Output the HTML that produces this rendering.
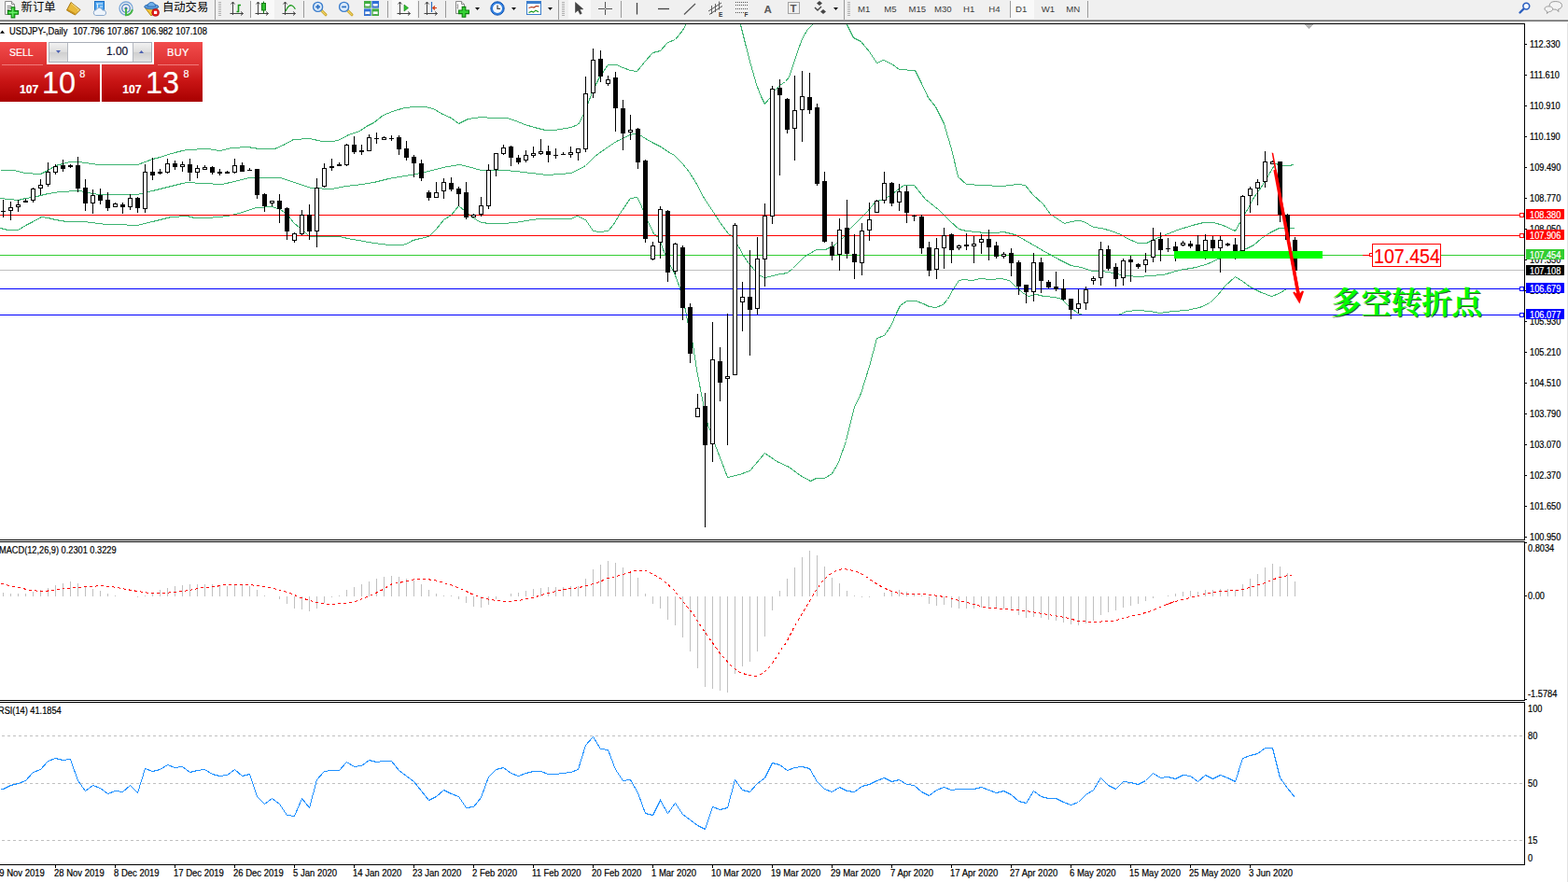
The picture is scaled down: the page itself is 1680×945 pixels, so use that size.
<!DOCTYPE html>
<html><head><meta charset="utf-8"><title>USDJPY Daily</title>
<style>
html,body{margin:0;padding:0;background:#fff}
body{width:1680px;height:945px;position:relative;overflow:hidden;font-family:"Liberation Sans",sans-serif}
.t{position:absolute;white-space:nowrap;line-height:1;margin:0;padding:0;-webkit-text-stroke:0.2px currentColor}
.rp{position:absolute;display:block}
svg{position:absolute;left:0;top:0;display:block}
</style></head><body>
<svg width="1680" height="945" viewBox="0 0 1680 945" shape-rendering="crispEdges">
<rect x="0" y="25" width="1634" height="1" fill="#000"/>
<rect x="0" y="578" width="1634" height="1" fill="#000"/>
<rect x="1633" y="25" width="1" height="554" fill="#000"/>
<rect x="0" y="580" width="1634" height="1" fill="#000"/>
<rect x="0" y="750" width="1634" height="1" fill="#000"/>
<rect x="1633" y="580" width="1" height="171" fill="#000"/>
<rect x="0" y="752" width="1634" height="1" fill="#000"/>
<rect x="0" y="926" width="1634" height="1" fill="#000"/>
<rect x="1633" y="752" width="1" height="175" fill="#000"/>
<clipPath id="cm"><rect x="0" y="26" width="1633" height="552"/></clipPath><g clip-path="url(#cm)">
<rect x="0" y="289" width="1633" height="1" fill="#c0c0c0"/>
<rect x="0" y="273" width="1633" height="1" fill="#32cd32"/>
<polyline points="0.5,182.5 15.5,182.5 26.5,185.5 43.5,186.5 51.5,182.5 59.5,177.5 67.5,175.5 74.5,173.5 83.5,173.5 91.5,174.5 105.5,176.5 147.5,176.5 155.5,173.5 163.5,170.5 171.5,168.5 180.5,165.5 187.5,163.5 195.5,161.5 200.5,160.5 222.5,159.5 235.5,161.5 248.5,158.5 265.5,157.5 277.5,159.5 294.5,159.5 303.5,155.5 314.5,149.5 331.5,148.5 345.5,151.5 357.5,151.5 364.5,149.5 373.5,144.5 385.5,140.5 392.5,135.5 400.5,131.5 410.5,123.5 420.5,119.5 433.5,115.5 444.5,114.5 455.5,114.5 464.5,116.5 472.5,121.5 483.5,126.5 491.5,132.5 501.5,127.5 515.5,125.5 528.5,126.5 543.5,126.5 552.5,129.5 562.5,133.5 572.5,136.5 584.5,139.5 593.5,139.5 600.5,138.5 611.5,136.5 619.5,133.5 625.5,122.5 630.5,109.5 635.5,96.5 642.5,82.5 651.5,69.5 660.5,69.5 667.5,72.5 675.5,75.5 682.5,76.5 691.5,65.5 699.5,56.5 707.5,54.5 715.5,45.5 723.5,42.5 731.5,32.5 735.5,25.5 739.5,17.5" fill="none" stroke="#3cb371" stroke-width="1" />
<polyline points="791.5,17.5 793.5,26.5 798.5,46.5 804.5,69.5 810.5,90.5 815.5,103.5 819.5,111.5 824.5,105.5 829.5,97.5 835.5,91.5 841.5,87.5 845.5,82.5 850.5,67.5 855.5,52.5 860.5,39.5 865.5,31.5 870.5,26.5 875.5,18.5" fill="none" stroke="#3cb371" stroke-width="1" />
<polyline points="904.5,18.5 907.5,26.5 914.5,40.5 922.5,44.5 931.5,55.5 939.5,67.5 946.5,64.5 955.5,68.5 963.5,74.5 980.5,75.5 987.5,89.5 994.5,104.5 1002.5,114.5 1011.5,132.5 1015.5,146.5 1019.5,159.5 1023.5,176.5 1026.5,189.5 1035.5,197.5 1051.5,198.5 1073.5,199.5 1090.5,197.5 1098.5,198.5 1106.5,208.5 1117.5,218.5 1125.5,229.5 1131.5,233.5 1140.5,239.5 1147.5,237.5 1155.5,236.5 1161.5,237.5 1171.5,243.5 1180.5,244.5 1190.5,247.5 1201.5,251.5 1207.5,255.5 1219.5,260.5 1228.5,260.5 1236.5,256.5 1246.5,252.5 1261.5,246.5 1277.5,241.5 1289.5,238.5 1300.5,238.5 1310.5,241.5 1323.5,247.5 1327.5,240.5 1335.5,226.5 1343.5,211.5 1351.5,200.5 1360.5,185.5 1366.5,175.5 1374.5,177.5 1380.5,177.5 1386.5,176.5" fill="none" stroke="#3cb371" stroke-width="1" />
<polyline points="0.5,212.5 19.5,214.5 27.5,212.5 35.5,211.5 43.5,209.5 51.5,207.5 64.5,205.5 83.5,204.5 91.5,205.5 98.5,207.5 107.5,208.5 131.5,208.5 147.5,208.5 154.5,206.5 163.5,204.5 171.5,202.5 179.5,200.5 187.5,198.5 195.5,196.5 200.5,195.5 217.5,196.5 237.5,197.5 251.5,194.5 266.5,190.5 280.5,190.5 300.5,190.5 315.5,195.5 333.5,201.5 355.5,202.5 370.5,199.5 388.5,197.5 400.5,195.5 416.5,191.5 440.5,187.5 459.5,183.5 474.5,179.5 492.5,176.5 501.5,178.5 515.5,182.5 540.5,182.5 552.5,183.5 569.5,185.5 586.5,187.5 600.5,186.5 611.5,185.5 618.5,182.5 627.5,177.5 637.5,167.5 648.5,159.5 660.5,151.5 675.5,144.5 682.5,142.5 691.5,148.5 700.5,153.5 708.5,157.5 715.5,162.5 722.5,166.5 731.5,175.5 738.5,184.5 745.5,195.5 754.5,212.5 764.5,227.5 771.5,238.5 780.5,250.5 784.5,253.5 791.5,264.5 797.5,275.5 802.5,282.5 808.5,289.5 814.5,295.5 819.5,297.5 828.5,295.5 831.5,294.5 843.5,292.5 849.5,287.5 861.5,275.5 874.5,267.5 884.5,267.5 894.5,262.5 903.5,254.5 910.5,245.5 920.5,235.5 929.5,226.5 938.5,215.5 947.5,213.5 956.5,207.5 968.5,198.5 979.5,198.5 991.5,213.5 1005.5,224.5 1010.5,229.5 1018.5,237.5 1027.5,245.5 1035.5,247.5 1055.5,249.5 1067.5,249.5 1075.5,248.5 1087.5,251.5 1098.5,257.5 1110.5,264.5 1124.5,272.5 1135.5,278.5 1147.5,284.5 1158.5,286.5 1170.5,290.5 1181.5,290.5 1192.5,292.5 1201.5,294.5 1207.5,295.5 1219.5,296.5 1232.5,295.5 1246.5,294.5 1263.5,289.5 1281.5,286.5 1294.5,282.5 1307.5,276.5 1320.5,271.5 1335.5,266.5 1343.5,262.5 1351.5,255.5 1360.5,249.5 1370.5,244.5 1380.5,244.5 1386.5,244.5" fill="none" stroke="#3cb371" stroke-width="1" />
<polyline points="0.5,244.5 8.5,246.5 19.5,246.5 27.5,241.5 35.5,237.5 44.5,232.5 51.5,233.5 59.5,235.5 71.5,237.5 88.5,237.5 98.5,238.5 113.5,240.5 131.5,240.5 139.5,241.5 147.5,241.5 154.5,239.5 163.5,237.5 171.5,235.5 183.5,232.5 200.5,231.5 208.5,233.5 222.5,233.5 244.5,231.5 259.5,227.5 274.5,222.5 291.5,221.5 300.5,224.5 308.5,230.5 314.5,238.5 321.5,244.5 325.5,247.5 331.5,253.5 363.5,253.5 377.5,256.5 389.5,258.5 400.5,260.5 409.5,261.5 416.5,262.5 430.5,262.5 435.5,261.5 442.5,257.5 450.5,255.5 459.5,253.5 467.5,245.5 475.5,235.5 483.5,230.5 491.5,220.5 498.5,226.5 505.5,232.5 515.5,238.5 525.5,239.5 538.5,239.5 552.5,238.5 569.5,235.5 579.5,234.5 600.5,234.5 611.5,234.5 618.5,231.5 627.5,235.5 635.5,247.5 642.5,248.5 651.5,247.5 657.5,240.5 664.5,228.5 675.5,212.5 682.5,211.5 685.5,216.5 691.5,231.5 700.5,250.5 705.5,254.5 708.5,261.5 712.5,272.5 717.5,283.5 722.5,292.5 728.5,308.5 734.5,332.5 736.5,343.5 742.5,369.5 745.5,389.5 747.5,401.5 753.5,432.5 758.5,455.5 761.5,462.5 766.5,477.5 773.5,495.5 779.5,511.5 792.5,508.5 803.5,504.5 819.5,485.5 832.5,494.5 845.5,500.5 857.5,509.5 868.5,515.5 874.5,512.5 883.5,512.5 891.5,507.5 898.5,495.5 906.5,472.5 912.5,447.5 915.5,436.5 922.5,421.5 931.5,392.5 939.5,362.5 947.5,359.5 954.5,349.5 960.5,335.5 964.5,327.5 971.5,322.5 981.5,322.5 989.5,325.5 995.5,328.5 1002.5,329.5 1010.5,326.5 1015.5,320.5 1021.5,309.5 1027.5,300.5 1032.5,299.5 1041.5,300.5 1050.5,298.5 1061.5,299.5 1072.5,298.5 1081.5,300.5 1087.5,306.5 1095.5,313.5 1101.5,317.5 1110.5,315.5 1118.5,317.5 1130.5,318.5 1137.5,320.5 1142.5,325.5 1148.5,330.5 1154.5,335.5 1160.5,337.5 1198.5,337.5 1207.5,333.5 1219.5,332.5 1232.5,333.5 1242.5,335.5 1256.5,333.5 1271.5,332.5 1285.5,329.5 1296.5,324.5 1304.5,316.5 1312.5,306.5 1323.5,296.5 1331.5,301.5 1339.5,307.5 1351.5,313.5 1362.5,317.5 1370.5,314.5 1378.5,309.5 1386.5,309.5" fill="none" stroke="#3cb371" stroke-width="1" />
<rect x="0" y="230" width="1633" height="1" fill="#f00"/>
<rect x="0" y="252" width="1633" height="1" fill="#f00"/>
<rect x="0" y="309" width="1633" height="1" fill="#00f"/>
<rect x="0" y="337" width="1633" height="1" fill="#00f"/>
<rect x="3" y="214" width="1" height="19" fill="#000"/>
<rect x="1" y="226" width="5" height="1" fill="#000"/>
<rect x="11" y="216" width="1" height="20" fill="#000"/>
<rect x="9" y="222" width="5" height="4" fill="#000"/>
<rect x="10" y="223" width="3" height="2" fill="#fff"/>
<rect x="19" y="214" width="1" height="13" fill="#000"/>
<rect x="17" y="219" width="5" height="3" fill="#000"/>
<rect x="18" y="220" width="3" height="1" fill="#fff"/>
<rect x="27" y="213" width="1" height="4" fill="#000"/>
<rect x="25" y="215" width="5" height="2" fill="#000"/>
<rect x="35" y="201" width="1" height="16" fill="#000"/>
<rect x="33" y="202" width="5" height="13" fill="#000"/>
<rect x="34" y="203" width="3" height="11" fill="#fff"/>
<rect x="43" y="192" width="1" height="17" fill="#000"/>
<rect x="41" y="198" width="5" height="4" fill="#000"/>
<rect x="42" y="199" width="3" height="2" fill="#fff"/>
<rect x="51" y="174" width="1" height="26" fill="#000"/>
<rect x="49" y="184" width="5" height="14" fill="#000"/>
<rect x="50" y="185" width="3" height="12" fill="#fff"/>
<rect x="59" y="176" width="1" height="11" fill="#000"/>
<rect x="57" y="178" width="5" height="7" fill="#000"/>
<rect x="58" y="179" width="3" height="5" fill="#fff"/>
<rect x="67" y="171" width="1" height="13" fill="#000"/>
<rect x="65" y="177" width="5" height="4" fill="#000"/>
<rect x="75" y="176" width="1" height="4" fill="#000"/>
<rect x="73" y="177" width="5" height="2" fill="#000"/>
<rect x="83" y="168" width="1" height="38" fill="#000"/>
<rect x="81" y="177" width="5" height="25" fill="#000"/>
<rect x="91" y="192" width="1" height="34" fill="#000"/>
<rect x="89" y="201" width="5" height="17" fill="#000"/>
<rect x="99" y="203" width="1" height="26" fill="#000"/>
<rect x="97" y="209" width="5" height="9" fill="#000"/>
<rect x="98" y="210" width="3" height="7" fill="#fff"/>
<rect x="107" y="202" width="1" height="17" fill="#000"/>
<rect x="105" y="209" width="5" height="6" fill="#000"/>
<rect x="115" y="206" width="1" height="20" fill="#000"/>
<rect x="113" y="214" width="5" height="9" fill="#000"/>
<rect x="123" y="217" width="1" height="5" fill="#000"/>
<rect x="121" y="218" width="5" height="4" fill="#000"/>
<rect x="122" y="219" width="3" height="2" fill="#fff"/>
<rect x="131" y="217" width="1" height="12" fill="#000"/>
<rect x="129" y="219" width="5" height="3" fill="#000"/>
<rect x="139" y="208" width="1" height="17" fill="#000"/>
<rect x="137" y="212" width="5" height="10" fill="#000"/>
<rect x="138" y="213" width="3" height="8" fill="#fff"/>
<rect x="147" y="211" width="1" height="17" fill="#000"/>
<rect x="145" y="212" width="5" height="11" fill="#000"/>
<rect x="155" y="176" width="1" height="52" fill="#000"/>
<rect x="153" y="184" width="5" height="40" fill="#000"/>
<rect x="154" y="185" width="3" height="38" fill="#fff"/>
<rect x="163" y="169" width="1" height="24" fill="#000"/>
<rect x="161" y="184" width="5" height="4" fill="#000"/>
<rect x="171" y="181" width="1" height="6" fill="#000"/>
<rect x="169" y="184" width="5" height="2" fill="#000"/>
<rect x="179" y="170" width="1" height="16" fill="#000"/>
<rect x="177" y="175" width="5" height="10" fill="#000"/>
<rect x="178" y="176" width="3" height="8" fill="#fff"/>
<rect x="187" y="172" width="1" height="10" fill="#000"/>
<rect x="185" y="175" width="5" height="4" fill="#000"/>
<rect x="195" y="173" width="1" height="11" fill="#000"/>
<rect x="193" y="176" width="5" height="3" fill="#000"/>
<rect x="194" y="177" width="3" height="1" fill="#fff"/>
<rect x="203" y="170" width="1" height="24" fill="#000"/>
<rect x="201" y="176" width="5" height="9" fill="#000"/>
<rect x="211" y="177" width="1" height="14" fill="#000"/>
<rect x="209" y="180" width="5" height="5" fill="#000"/>
<rect x="210" y="181" width="3" height="3" fill="#fff"/>
<rect x="219" y="177" width="1" height="5" fill="#000"/>
<rect x="217" y="179" width="5" height="3" fill="#000"/>
<rect x="218" y="180" width="3" height="1" fill="#fff"/>
<rect x="227" y="178" width="1" height="9" fill="#000"/>
<rect x="225" y="179" width="5" height="6" fill="#000"/>
<rect x="235" y="181" width="1" height="7" fill="#000"/>
<rect x="233" y="184" width="5" height="2" fill="#000"/>
<rect x="243" y="183" width="1" height="3" fill="#000"/>
<rect x="241" y="184" width="5" height="2" fill="#000"/>
<rect x="251" y="170" width="1" height="16" fill="#000"/>
<rect x="249" y="177" width="5" height="8" fill="#000"/>
<rect x="250" y="178" width="3" height="6" fill="#fff"/>
<rect x="259" y="174" width="1" height="10" fill="#000"/>
<rect x="257" y="177" width="5" height="7" fill="#000"/>
<rect x="267" y="180" width="1" height="3" fill="#000"/>
<rect x="265" y="182" width="5" height="1" fill="#000"/>
<rect x="275" y="181" width="1" height="32" fill="#000"/>
<rect x="273" y="181" width="5" height="28" fill="#000"/>
<rect x="283" y="207" width="1" height="20" fill="#000"/>
<rect x="281" y="208" width="5" height="13" fill="#000"/>
<rect x="291" y="215" width="1" height="6" fill="#000"/>
<rect x="289" y="215" width="5" height="3" fill="#000"/>
<rect x="290" y="216" width="3" height="1" fill="#fff"/>
<rect x="299" y="208" width="1" height="31" fill="#000"/>
<rect x="297" y="215" width="5" height="9" fill="#000"/>
<rect x="307" y="222" width="1" height="35" fill="#000"/>
<rect x="305" y="223" width="5" height="25" fill="#000"/>
<rect x="315" y="249" width="1" height="11" fill="#000"/>
<rect x="313" y="250" width="5" height="8" fill="#000"/>
<rect x="314" y="251" width="3" height="6" fill="#fff"/>
<rect x="323" y="225" width="1" height="27" fill="#000"/>
<rect x="321" y="230" width="5" height="21" fill="#000"/>
<rect x="322" y="231" width="3" height="19" fill="#fff"/>
<rect x="331" y="219" width="1" height="38" fill="#000"/>
<rect x="329" y="230" width="5" height="18" fill="#000"/>
<rect x="339" y="191" width="1" height="74" fill="#000"/>
<rect x="337" y="201" width="5" height="47" fill="#000"/>
<rect x="338" y="202" width="3" height="45" fill="#fff"/>
<rect x="347" y="175" width="1" height="26" fill="#000"/>
<rect x="345" y="180" width="5" height="20" fill="#000"/>
<rect x="346" y="181" width="3" height="18" fill="#fff"/>
<rect x="355" y="170" width="1" height="13" fill="#000"/>
<rect x="353" y="178" width="5" height="2" fill="#000"/>
<rect x="363" y="174" width="1" height="4" fill="#000"/>
<rect x="361" y="176" width="5" height="2" fill="#000"/>
<rect x="371" y="154" width="1" height="24" fill="#000"/>
<rect x="369" y="155" width="5" height="22" fill="#000"/>
<rect x="370" y="156" width="3" height="20" fill="#fff"/>
<rect x="379" y="146" width="1" height="19" fill="#000"/>
<rect x="377" y="155" width="5" height="8" fill="#000"/>
<rect x="387" y="155" width="1" height="11" fill="#000"/>
<rect x="385" y="161" width="5" height="2" fill="#000"/>
<rect x="395" y="144" width="1" height="18" fill="#000"/>
<rect x="393" y="147" width="5" height="15" fill="#000"/>
<rect x="394" y="148" width="3" height="13" fill="#fff"/>
<rect x="403" y="142" width="1" height="12" fill="#000"/>
<rect x="401" y="148" width="5" height="1" fill="#000"/>
<rect x="411" y="146" width="1" height="4" fill="#000"/>
<rect x="409" y="147" width="5" height="3" fill="#000"/>
<rect x="410" y="148" width="3" height="1" fill="#fff"/>
<rect x="419" y="145" width="1" height="6" fill="#000"/>
<rect x="417" y="148" width="5" height="1" fill="#000"/>
<rect x="427" y="145" width="1" height="21" fill="#000"/>
<rect x="425" y="147" width="5" height="13" fill="#000"/>
<rect x="435" y="151" width="1" height="21" fill="#000"/>
<rect x="433" y="159" width="5" height="10" fill="#000"/>
<rect x="443" y="166" width="1" height="24" fill="#000"/>
<rect x="441" y="168" width="5" height="7" fill="#000"/>
<rect x="451" y="171" width="1" height="23" fill="#000"/>
<rect x="449" y="175" width="5" height="16" fill="#000"/>
<rect x="459" y="204" width="1" height="11" fill="#000"/>
<rect x="457" y="206" width="5" height="6" fill="#000"/>
<rect x="467" y="195" width="1" height="17" fill="#000"/>
<rect x="465" y="206" width="5" height="6" fill="#000"/>
<rect x="466" y="207" width="3" height="4" fill="#fff"/>
<rect x="475" y="191" width="1" height="22" fill="#000"/>
<rect x="473" y="195" width="5" height="10" fill="#000"/>
<rect x="474" y="196" width="3" height="8" fill="#fff"/>
<rect x="483" y="190" width="1" height="15" fill="#000"/>
<rect x="481" y="196" width="5" height="7" fill="#000"/>
<rect x="491" y="200" width="1" height="21" fill="#000"/>
<rect x="489" y="202" width="5" height="6" fill="#000"/>
<rect x="499" y="195" width="1" height="40" fill="#000"/>
<rect x="497" y="206" width="5" height="27" fill="#000"/>
<rect x="507" y="229" width="1" height="4" fill="#000"/>
<rect x="505" y="230" width="5" height="3" fill="#000"/>
<rect x="506" y="231" width="3" height="1" fill="#fff"/>
<rect x="515" y="211" width="1" height="21" fill="#000"/>
<rect x="513" y="220" width="5" height="10" fill="#000"/>
<rect x="514" y="221" width="3" height="8" fill="#fff"/>
<rect x="523" y="176" width="1" height="48" fill="#000"/>
<rect x="521" y="182" width="5" height="39" fill="#000"/>
<rect x="522" y="183" width="3" height="37" fill="#fff"/>
<rect x="531" y="164" width="1" height="25" fill="#000"/>
<rect x="529" y="164" width="5" height="18" fill="#000"/>
<rect x="530" y="165" width="3" height="16" fill="#fff"/>
<rect x="539" y="155" width="1" height="11" fill="#000"/>
<rect x="537" y="158" width="5" height="7" fill="#000"/>
<rect x="538" y="159" width="3" height="5" fill="#fff"/>
<rect x="547" y="156" width="1" height="22" fill="#000"/>
<rect x="545" y="157" width="5" height="12" fill="#000"/>
<rect x="555" y="166" width="1" height="10" fill="#000"/>
<rect x="553" y="169" width="5" height="5" fill="#000"/>
<rect x="563" y="161" width="1" height="13" fill="#000"/>
<rect x="561" y="166" width="5" height="6" fill="#000"/>
<rect x="562" y="167" width="3" height="4" fill="#fff"/>
<rect x="571" y="157" width="1" height="12" fill="#000"/>
<rect x="569" y="164" width="5" height="3" fill="#000"/>
<rect x="570" y="165" width="3" height="1" fill="#fff"/>
<rect x="579" y="149" width="1" height="17" fill="#000"/>
<rect x="577" y="162" width="5" height="3" fill="#000"/>
<rect x="578" y="163" width="3" height="1" fill="#fff"/>
<rect x="587" y="156" width="1" height="18" fill="#000"/>
<rect x="585" y="162" width="5" height="4" fill="#000"/>
<rect x="595" y="159" width="1" height="11" fill="#000"/>
<rect x="593" y="166" width="5" height="1" fill="#000"/>
<rect x="603" y="163" width="1" height="3" fill="#000"/>
<rect x="601" y="165" width="5" height="1" fill="#000"/>
<rect x="611" y="157" width="1" height="12" fill="#000"/>
<rect x="609" y="163" width="5" height="3" fill="#000"/>
<rect x="610" y="164" width="3" height="1" fill="#fff"/>
<rect x="619" y="159" width="1" height="13" fill="#000"/>
<rect x="617" y="159" width="5" height="5" fill="#000"/>
<rect x="618" y="160" width="3" height="3" fill="#fff"/>
<rect x="627" y="82" width="1" height="81" fill="#000"/>
<rect x="625" y="100" width="5" height="60" fill="#000"/>
<rect x="626" y="101" width="3" height="58" fill="#fff"/>
<rect x="635" y="52" width="1" height="53" fill="#000"/>
<rect x="633" y="64" width="5" height="36" fill="#000"/>
<rect x="634" y="65" width="3" height="34" fill="#fff"/>
<rect x="643" y="54" width="1" height="34" fill="#000"/>
<rect x="641" y="63" width="5" height="19" fill="#000"/>
<rect x="651" y="81" width="1" height="11" fill="#000"/>
<rect x="649" y="85" width="5" height="5" fill="#000"/>
<rect x="650" y="86" width="3" height="3" fill="#fff"/>
<rect x="659" y="77" width="1" height="64" fill="#000"/>
<rect x="657" y="83" width="5" height="33" fill="#000"/>
<rect x="667" y="107" width="1" height="54" fill="#000"/>
<rect x="665" y="116" width="5" height="27" fill="#000"/>
<rect x="675" y="123" width="1" height="27" fill="#000"/>
<rect x="673" y="139" width="5" height="3" fill="#000"/>
<rect x="674" y="140" width="3" height="1" fill="#fff"/>
<rect x="683" y="137" width="1" height="44" fill="#000"/>
<rect x="681" y="138" width="5" height="36" fill="#000"/>
<rect x="691" y="171" width="1" height="89" fill="#000"/>
<rect x="689" y="172" width="5" height="84" fill="#000"/>
<rect x="699" y="259" width="1" height="20" fill="#000"/>
<rect x="697" y="263" width="5" height="15" fill="#000"/>
<rect x="698" y="264" width="3" height="13" fill="#fff"/>
<rect x="707" y="221" width="1" height="56" fill="#000"/>
<rect x="705" y="224" width="5" height="36" fill="#000"/>
<rect x="706" y="225" width="3" height="34" fill="#fff"/>
<rect x="715" y="225" width="1" height="77" fill="#000"/>
<rect x="713" y="226" width="5" height="66" fill="#000"/>
<rect x="723" y="260" width="1" height="34" fill="#000"/>
<rect x="721" y="261" width="5" height="30" fill="#000"/>
<rect x="722" y="262" width="3" height="28" fill="#fff"/>
<rect x="731" y="263" width="1" height="80" fill="#000"/>
<rect x="729" y="265" width="5" height="65" fill="#000"/>
<rect x="739" y="325" width="1" height="64" fill="#000"/>
<rect x="737" y="329" width="5" height="50" fill="#000"/>
<rect x="747" y="422" width="1" height="25" fill="#000"/>
<rect x="745" y="437" width="5" height="10" fill="#000"/>
<rect x="746" y="438" width="3" height="8" fill="#fff"/>
<rect x="755" y="421" width="1" height="144" fill="#000"/>
<rect x="753" y="435" width="5" height="42" fill="#000"/>
<rect x="763" y="345" width="1" height="150" fill="#000"/>
<rect x="761" y="385" width="5" height="91" fill="#000"/>
<rect x="762" y="386" width="3" height="89" fill="#fff"/>
<rect x="771" y="372" width="1" height="58" fill="#000"/>
<rect x="769" y="387" width="5" height="23" fill="#000"/>
<rect x="779" y="336" width="1" height="141" fill="#000"/>
<rect x="777" y="403" width="5" height="3" fill="#000"/>
<rect x="778" y="404" width="3" height="1" fill="#fff"/>
<rect x="787" y="239" width="1" height="163" fill="#000"/>
<rect x="785" y="241" width="5" height="161" fill="#000"/>
<rect x="786" y="242" width="3" height="159" fill="#fff"/>
<rect x="795" y="302" width="1" height="53" fill="#000"/>
<rect x="793" y="318" width="5" height="6" fill="#000"/>
<rect x="794" y="319" width="3" height="4" fill="#fff"/>
<rect x="803" y="268" width="1" height="113" fill="#000"/>
<rect x="801" y="318" width="5" height="14" fill="#000"/>
<rect x="811" y="254" width="1" height="83" fill="#000"/>
<rect x="809" y="277" width="5" height="54" fill="#000"/>
<rect x="810" y="278" width="3" height="52" fill="#fff"/>
<rect x="819" y="218" width="1" height="89" fill="#000"/>
<rect x="817" y="231" width="5" height="47" fill="#000"/>
<rect x="818" y="232" width="3" height="45" fill="#fff"/>
<rect x="827" y="92" width="1" height="148" fill="#000"/>
<rect x="825" y="95" width="5" height="137" fill="#000"/>
<rect x="826" y="96" width="3" height="135" fill="#fff"/>
<rect x="835" y="85" width="1" height="103" fill="#000"/>
<rect x="833" y="94" width="5" height="8" fill="#000"/>
<rect x="843" y="105" width="1" height="38" fill="#000"/>
<rect x="841" y="106" width="5" height="33" fill="#000"/>
<rect x="851" y="81" width="1" height="91" fill="#000"/>
<rect x="849" y="118" width="5" height="20" fill="#000"/>
<rect x="850" y="119" width="3" height="18" fill="#fff"/>
<rect x="859" y="76" width="1" height="76" fill="#000"/>
<rect x="857" y="103" width="5" height="15" fill="#000"/>
<rect x="858" y="104" width="3" height="13" fill="#fff"/>
<rect x="867" y="78" width="1" height="44" fill="#000"/>
<rect x="865" y="104" width="5" height="14" fill="#000"/>
<rect x="875" y="111" width="1" height="88" fill="#000"/>
<rect x="873" y="115" width="5" height="82" fill="#000"/>
<rect x="883" y="184" width="1" height="76" fill="#000"/>
<rect x="881" y="194" width="5" height="65" fill="#000"/>
<rect x="891" y="259" width="1" height="20" fill="#000"/>
<rect x="889" y="264" width="5" height="10" fill="#000"/>
<rect x="899" y="234" width="1" height="56" fill="#000"/>
<rect x="897" y="246" width="5" height="27" fill="#000"/>
<rect x="898" y="247" width="3" height="25" fill="#fff"/>
<rect x="907" y="214" width="1" height="63" fill="#000"/>
<rect x="905" y="244" width="5" height="28" fill="#000"/>
<rect x="915" y="251" width="1" height="48" fill="#000"/>
<rect x="913" y="272" width="5" height="9" fill="#000"/>
<rect x="923" y="239" width="1" height="56" fill="#000"/>
<rect x="921" y="247" width="5" height="35" fill="#000"/>
<rect x="922" y="248" width="3" height="33" fill="#fff"/>
<rect x="931" y="217" width="1" height="41" fill="#000"/>
<rect x="929" y="235" width="5" height="12" fill="#000"/>
<rect x="930" y="236" width="3" height="10" fill="#fff"/>
<rect x="939" y="214" width="1" height="14" fill="#000"/>
<rect x="937" y="215" width="5" height="13" fill="#000"/>
<rect x="938" y="216" width="3" height="11" fill="#fff"/>
<rect x="947" y="184" width="1" height="34" fill="#000"/>
<rect x="945" y="196" width="5" height="19" fill="#000"/>
<rect x="946" y="197" width="3" height="17" fill="#fff"/>
<rect x="955" y="195" width="1" height="26" fill="#000"/>
<rect x="953" y="196" width="5" height="22" fill="#000"/>
<rect x="963" y="197" width="1" height="29" fill="#000"/>
<rect x="961" y="205" width="5" height="12" fill="#000"/>
<rect x="962" y="206" width="3" height="10" fill="#fff"/>
<rect x="971" y="199" width="1" height="40" fill="#000"/>
<rect x="969" y="205" width="5" height="23" fill="#000"/>
<rect x="979" y="230" width="1" height="7" fill="#000"/>
<rect x="977" y="231" width="5" height="1" fill="#000"/>
<rect x="987" y="230" width="1" height="42" fill="#000"/>
<rect x="985" y="232" width="5" height="34" fill="#000"/>
<rect x="995" y="259" width="1" height="37" fill="#000"/>
<rect x="993" y="265" width="5" height="25" fill="#000"/>
<rect x="1003" y="255" width="1" height="44" fill="#000"/>
<rect x="1001" y="266" width="5" height="23" fill="#000"/>
<rect x="1002" y="267" width="3" height="21" fill="#fff"/>
<rect x="1011" y="244" width="1" height="44" fill="#000"/>
<rect x="1009" y="252" width="5" height="14" fill="#000"/>
<rect x="1010" y="253" width="3" height="12" fill="#fff"/>
<rect x="1019" y="250" width="1" height="32" fill="#000"/>
<rect x="1017" y="251" width="5" height="17" fill="#000"/>
<rect x="1027" y="262" width="1" height="6" fill="#000"/>
<rect x="1025" y="263" width="5" height="3" fill="#000"/>
<rect x="1026" y="264" width="3" height="1" fill="#fff"/>
<rect x="1035" y="250" width="1" height="18" fill="#000"/>
<rect x="1033" y="262" width="5" height="2" fill="#000"/>
<rect x="1043" y="253" width="1" height="29" fill="#000"/>
<rect x="1041" y="261" width="5" height="3" fill="#000"/>
<rect x="1042" y="262" width="3" height="1" fill="#fff"/>
<rect x="1051" y="251" width="1" height="21" fill="#000"/>
<rect x="1049" y="256" width="5" height="4" fill="#000"/>
<rect x="1050" y="257" width="3" height="2" fill="#fff"/>
<rect x="1059" y="246" width="1" height="33" fill="#000"/>
<rect x="1057" y="256" width="5" height="9" fill="#000"/>
<rect x="1067" y="259" width="1" height="18" fill="#000"/>
<rect x="1065" y="263" width="5" height="12" fill="#000"/>
<rect x="1075" y="270" width="1" height="7" fill="#000"/>
<rect x="1073" y="272" width="5" height="3" fill="#000"/>
<rect x="1074" y="273" width="3" height="1" fill="#fff"/>
<rect x="1083" y="266" width="1" height="30" fill="#000"/>
<rect x="1081" y="271" width="5" height="11" fill="#000"/>
<rect x="1091" y="279" width="1" height="37" fill="#000"/>
<rect x="1089" y="281" width="5" height="26" fill="#000"/>
<rect x="1099" y="305" width="1" height="20" fill="#000"/>
<rect x="1097" y="305" width="5" height="8" fill="#000"/>
<rect x="1107" y="271" width="1" height="52" fill="#000"/>
<rect x="1105" y="281" width="5" height="32" fill="#000"/>
<rect x="1106" y="282" width="3" height="30" fill="#fff"/>
<rect x="1115" y="276" width="1" height="38" fill="#000"/>
<rect x="1113" y="281" width="5" height="20" fill="#000"/>
<rect x="1123" y="300" width="1" height="9" fill="#000"/>
<rect x="1121" y="302" width="5" height="6" fill="#000"/>
<rect x="1131" y="291" width="1" height="21" fill="#000"/>
<rect x="1129" y="307" width="5" height="3" fill="#000"/>
<rect x="1139" y="299" width="1" height="23" fill="#000"/>
<rect x="1137" y="309" width="5" height="12" fill="#000"/>
<rect x="1147" y="320" width="1" height="22" fill="#000"/>
<rect x="1145" y="320" width="5" height="12" fill="#000"/>
<rect x="1155" y="310" width="1" height="26" fill="#000"/>
<rect x="1153" y="325" width="5" height="6" fill="#000"/>
<rect x="1154" y="326" width="3" height="4" fill="#fff"/>
<rect x="1163" y="307" width="1" height="25" fill="#000"/>
<rect x="1161" y="310" width="5" height="15" fill="#000"/>
<rect x="1162" y="311" width="3" height="13" fill="#fff"/>
<rect x="1171" y="296" width="1" height="9" fill="#000"/>
<rect x="1169" y="298" width="5" height="3" fill="#000"/>
<rect x="1170" y="299" width="3" height="1" fill="#fff"/>
<rect x="1179" y="259" width="1" height="47" fill="#000"/>
<rect x="1177" y="267" width="5" height="31" fill="#000"/>
<rect x="1178" y="268" width="3" height="29" fill="#fff"/>
<rect x="1187" y="263" width="1" height="27" fill="#000"/>
<rect x="1185" y="267" width="5" height="21" fill="#000"/>
<rect x="1195" y="282" width="1" height="25" fill="#000"/>
<rect x="1193" y="286" width="5" height="13" fill="#000"/>
<rect x="1203" y="277" width="1" height="29" fill="#000"/>
<rect x="1201" y="279" width="5" height="19" fill="#000"/>
<rect x="1202" y="280" width="3" height="17" fill="#fff"/>
<rect x="1211" y="274" width="1" height="28" fill="#000"/>
<rect x="1209" y="278" width="5" height="3" fill="#000"/>
<rect x="1219" y="282" width="1" height="6" fill="#000"/>
<rect x="1217" y="283" width="5" height="3" fill="#000"/>
<rect x="1227" y="271" width="1" height="21" fill="#000"/>
<rect x="1225" y="278" width="5" height="6" fill="#000"/>
<rect x="1226" y="279" width="3" height="4" fill="#fff"/>
<rect x="1235" y="244" width="1" height="37" fill="#000"/>
<rect x="1233" y="257" width="5" height="19" fill="#000"/>
<rect x="1234" y="258" width="3" height="17" fill="#fff"/>
<rect x="1243" y="249" width="1" height="31" fill="#000"/>
<rect x="1241" y="256" width="5" height="12" fill="#000"/>
<rect x="1251" y="255" width="1" height="15" fill="#000"/>
<rect x="1249" y="266" width="5" height="1" fill="#000"/>
<rect x="1259" y="259" width="1" height="21" fill="#000"/>
<rect x="1257" y="264" width="5" height="5" fill="#000"/>
<rect x="1267" y="258" width="1" height="6" fill="#000"/>
<rect x="1265" y="260" width="5" height="3" fill="#000"/>
<rect x="1266" y="261" width="3" height="1" fill="#fff"/>
<rect x="1275" y="258" width="1" height="8" fill="#000"/>
<rect x="1273" y="261" width="5" height="3" fill="#000"/>
<rect x="1283" y="252" width="1" height="17" fill="#000"/>
<rect x="1281" y="262" width="5" height="7" fill="#000"/>
<rect x="1291" y="251" width="1" height="27" fill="#000"/>
<rect x="1289" y="257" width="5" height="12" fill="#000"/>
<rect x="1290" y="258" width="3" height="10" fill="#fff"/>
<rect x="1299" y="253" width="1" height="16" fill="#000"/>
<rect x="1297" y="257" width="5" height="9" fill="#000"/>
<rect x="1307" y="253" width="1" height="39" fill="#000"/>
<rect x="1305" y="257" width="5" height="9" fill="#000"/>
<rect x="1306" y="258" width="3" height="7" fill="#fff"/>
<rect x="1315" y="260" width="1" height="4" fill="#000"/>
<rect x="1313" y="261" width="5" height="2" fill="#000"/>
<rect x="1323" y="255" width="1" height="23" fill="#000"/>
<rect x="1321" y="262" width="5" height="7" fill="#000"/>
<rect x="1331" y="209" width="1" height="60" fill="#000"/>
<rect x="1329" y="210" width="5" height="59" fill="#000"/>
<rect x="1330" y="211" width="3" height="57" fill="#fff"/>
<rect x="1339" y="200" width="1" height="28" fill="#000"/>
<rect x="1337" y="202" width="5" height="8" fill="#000"/>
<rect x="1338" y="203" width="3" height="6" fill="#fff"/>
<rect x="1347" y="192" width="1" height="28" fill="#000"/>
<rect x="1345" y="195" width="5" height="7" fill="#000"/>
<rect x="1346" y="196" width="3" height="5" fill="#fff"/>
<rect x="1355" y="162" width="1" height="39" fill="#000"/>
<rect x="1353" y="173" width="5" height="22" fill="#000"/>
<rect x="1354" y="174" width="3" height="20" fill="#fff"/>
<rect x="1363" y="172" width="1" height="4" fill="#000"/>
<rect x="1361" y="173" width="5" height="3" fill="#000"/>
<rect x="1362" y="174" width="3" height="1" fill="#fff"/>
<rect x="1371" y="173" width="1" height="65" fill="#000"/>
<rect x="1369" y="173" width="5" height="57" fill="#000"/>
<rect x="1379" y="229" width="1" height="32" fill="#000"/>
<rect x="1377" y="230" width="5" height="27" fill="#000"/>
<rect x="1387" y="254" width="1" height="36" fill="#000"/>
<rect x="1385" y="257" width="5" height="33" fill="#000"/>
<rect x="1258" y="269" width="159" height="8" fill="#0f0"/>
</g>
<rect x="1628" y="228" width="5" height="5" fill="#f00"/>
<rect x="1629" y="229" width="3" height="3" fill="#fff"/>
<rect x="1628" y="250" width="5" height="5" fill="#f00"/>
<rect x="1629" y="251" width="3" height="3" fill="#fff"/>
<rect x="1628" y="307" width="5" height="5" fill="#00f"/>
<rect x="1629" y="308" width="3" height="3" fill="#fff"/>
<rect x="1628" y="335" width="5" height="5" fill="#00f"/>
<rect x="1629" y="336" width="3" height="3" fill="#fff"/>
<polygon points="1397,26 1408,26 1402.5,31" fill="#b4b4b4"/>
<rect x="1634" y="47" width="2" height="1" fill="#000"/>
<rect x="1634" y="80" width="2" height="1" fill="#000"/>
<rect x="1634" y="113" width="2" height="1" fill="#000"/>
<rect x="1634" y="146" width="2" height="1" fill="#000"/>
<rect x="1634" y="179" width="2" height="1" fill="#000"/>
<rect x="1634" y="212" width="2" height="1" fill="#000"/>
<rect x="1634" y="245" width="2" height="1" fill="#000"/>
<rect x="1634" y="278" width="2" height="1" fill="#000"/>
<rect x="1634" y="311" width="2" height="1" fill="#000"/>
<rect x="1634" y="344" width="2" height="1" fill="#000"/>
<rect x="1634" y="377" width="2" height="1" fill="#000"/>
<rect x="1634" y="410" width="2" height="1" fill="#000"/>
<rect x="1634" y="443" width="2" height="1" fill="#000"/>
<rect x="1634" y="476" width="2" height="1" fill="#000"/>
<rect x="1634" y="509" width="2" height="1" fill="#000"/>
<rect x="1634" y="542" width="2" height="1" fill="#000"/>
<rect x="1634" y="575" width="2" height="1" fill="#000"/>
<rect x="3" y="635" width="1" height="4" fill="#c0c0c0"/>
<rect x="11" y="636" width="1" height="3" fill="#c0c0c0"/>
<rect x="19" y="636" width="1" height="3" fill="#c0c0c0"/>
<rect x="27" y="636" width="1" height="3" fill="#c0c0c0"/>
<rect x="35" y="634" width="1" height="5" fill="#c0c0c0"/>
<rect x="43" y="632" width="1" height="7" fill="#c0c0c0"/>
<rect x="51" y="630" width="1" height="9" fill="#c0c0c0"/>
<rect x="59" y="627" width="1" height="12" fill="#c0c0c0"/>
<rect x="67" y="625" width="1" height="14" fill="#c0c0c0"/>
<rect x="75" y="623" width="1" height="16" fill="#c0c0c0"/>
<rect x="83" y="625" width="1" height="14" fill="#c0c0c0"/>
<rect x="91" y="628" width="1" height="11" fill="#c0c0c0"/>
<rect x="99" y="631" width="1" height="8" fill="#c0c0c0"/>
<rect x="107" y="633" width="1" height="6" fill="#c0c0c0"/>
<rect x="115" y="636" width="1" height="3" fill="#c0c0c0"/>
<rect x="123" y="638" width="1" height="1" fill="#c0c0c0"/>
<rect x="147" y="639" width="1" height="1" fill="#c0c0c0"/>
<rect x="155" y="638" width="1" height="1" fill="#c0c0c0"/>
<rect x="163" y="635" width="1" height="4" fill="#c0c0c0"/>
<rect x="171" y="632" width="1" height="7" fill="#c0c0c0"/>
<rect x="179" y="630" width="1" height="9" fill="#c0c0c0"/>
<rect x="187" y="628" width="1" height="11" fill="#c0c0c0"/>
<rect x="195" y="627" width="1" height="12" fill="#c0c0c0"/>
<rect x="203" y="626" width="1" height="13" fill="#c0c0c0"/>
<rect x="211" y="626" width="1" height="13" fill="#c0c0c0"/>
<rect x="219" y="626" width="1" height="13" fill="#c0c0c0"/>
<rect x="227" y="626" width="1" height="13" fill="#c0c0c0"/>
<rect x="235" y="627" width="1" height="12" fill="#c0c0c0"/>
<rect x="243" y="628" width="1" height="11" fill="#c0c0c0"/>
<rect x="251" y="627" width="1" height="12" fill="#c0c0c0"/>
<rect x="259" y="627" width="1" height="12" fill="#c0c0c0"/>
<rect x="267" y="628" width="1" height="11" fill="#c0c0c0"/>
<rect x="275" y="632" width="1" height="7" fill="#c0c0c0"/>
<rect x="283" y="638" width="1" height="1" fill="#c0c0c0"/>
<rect x="299" y="639" width="1" height="3" fill="#c0c0c0"/>
<rect x="307" y="639" width="1" height="8" fill="#c0c0c0"/>
<rect x="315" y="639" width="1" height="13" fill="#c0c0c0"/>
<rect x="323" y="639" width="1" height="14" fill="#c0c0c0"/>
<rect x="331" y="639" width="1" height="16" fill="#c0c0c0"/>
<rect x="339" y="639" width="1" height="13" fill="#c0c0c0"/>
<rect x="347" y="639" width="1" height="7" fill="#c0c0c0"/>
<rect x="355" y="639" width="1" height="1" fill="#c0c0c0"/>
<rect x="363" y="638" width="1" height="1" fill="#c0c0c0"/>
<rect x="371" y="632" width="1" height="7" fill="#c0c0c0"/>
<rect x="379" y="629" width="1" height="10" fill="#c0c0c0"/>
<rect x="387" y="626" width="1" height="13" fill="#c0c0c0"/>
<rect x="395" y="623" width="1" height="16" fill="#c0c0c0"/>
<rect x="403" y="620" width="1" height="19" fill="#c0c0c0"/>
<rect x="411" y="618" width="1" height="21" fill="#c0c0c0"/>
<rect x="419" y="617" width="1" height="22" fill="#c0c0c0"/>
<rect x="427" y="618" width="1" height="21" fill="#c0c0c0"/>
<rect x="435" y="620" width="1" height="19" fill="#c0c0c0"/>
<rect x="443" y="622" width="1" height="17" fill="#c0c0c0"/>
<rect x="451" y="626" width="1" height="13" fill="#c0c0c0"/>
<rect x="459" y="632" width="1" height="7" fill="#c0c0c0"/>
<rect x="467" y="636" width="1" height="3" fill="#c0c0c0"/>
<rect x="475" y="638" width="1" height="1" fill="#c0c0c0"/>
<rect x="483" y="638" width="1" height="1" fill="#c0c0c0"/>
<rect x="491" y="639" width="1" height="3" fill="#c0c0c0"/>
<rect x="499" y="639" width="1" height="7" fill="#c0c0c0"/>
<rect x="507" y="639" width="1" height="11" fill="#c0c0c0"/>
<rect x="515" y="639" width="1" height="12" fill="#c0c0c0"/>
<rect x="523" y="639" width="1" height="9" fill="#c0c0c0"/>
<rect x="531" y="639" width="1" height="3" fill="#c0c0c0"/>
<rect x="547" y="636" width="1" height="3" fill="#c0c0c0"/>
<rect x="555" y="635" width="1" height="4" fill="#c0c0c0"/>
<rect x="563" y="633" width="1" height="6" fill="#c0c0c0"/>
<rect x="571" y="631" width="1" height="8" fill="#c0c0c0"/>
<rect x="579" y="630" width="1" height="9" fill="#c0c0c0"/>
<rect x="587" y="629" width="1" height="10" fill="#c0c0c0"/>
<rect x="595" y="629" width="1" height="10" fill="#c0c0c0"/>
<rect x="603" y="629" width="1" height="10" fill="#c0c0c0"/>
<rect x="611" y="628" width="1" height="11" fill="#c0c0c0"/>
<rect x="619" y="628" width="1" height="11" fill="#c0c0c0"/>
<rect x="627" y="620" width="1" height="19" fill="#c0c0c0"/>
<rect x="635" y="610" width="1" height="29" fill="#c0c0c0"/>
<rect x="643" y="605" width="1" height="34" fill="#c0c0c0"/>
<rect x="651" y="601" width="1" height="38" fill="#c0c0c0"/>
<rect x="659" y="603" width="1" height="36" fill="#c0c0c0"/>
<rect x="667" y="608" width="1" height="31" fill="#c0c0c0"/>
<rect x="675" y="612" width="1" height="27" fill="#c0c0c0"/>
<rect x="683" y="619" width="1" height="20" fill="#c0c0c0"/>
<rect x="691" y="636" width="1" height="3" fill="#c0c0c0"/>
<rect x="699" y="639" width="1" height="8" fill="#c0c0c0"/>
<rect x="707" y="639" width="1" height="13" fill="#c0c0c0"/>
<rect x="715" y="639" width="1" height="25" fill="#c0c0c0"/>
<rect x="723" y="639" width="1" height="31" fill="#c0c0c0"/>
<rect x="731" y="639" width="1" height="44" fill="#c0c0c0"/>
<rect x="739" y="639" width="1" height="59" fill="#c0c0c0"/>
<rect x="747" y="639" width="1" height="77" fill="#c0c0c0"/>
<rect x="755" y="639" width="1" height="97" fill="#c0c0c0"/>
<rect x="763" y="639" width="1" height="99" fill="#c0c0c0"/>
<rect x="771" y="639" width="1" height="101" fill="#c0c0c0"/>
<rect x="779" y="639" width="1" height="103" fill="#c0c0c0"/>
<rect x="787" y="639" width="1" height="83" fill="#c0c0c0"/>
<rect x="795" y="639" width="1" height="75" fill="#c0c0c0"/>
<rect x="803" y="639" width="1" height="70" fill="#c0c0c0"/>
<rect x="811" y="639" width="1" height="59" fill="#c0c0c0"/>
<rect x="819" y="639" width="1" height="43" fill="#c0c0c0"/>
<rect x="827" y="639" width="1" height="15" fill="#c0c0c0"/>
<rect x="835" y="633" width="1" height="6" fill="#c0c0c0"/>
<rect x="843" y="620" width="1" height="19" fill="#c0c0c0"/>
<rect x="851" y="608" width="1" height="31" fill="#c0c0c0"/>
<rect x="859" y="597" width="1" height="42" fill="#c0c0c0"/>
<rect x="867" y="590" width="1" height="49" fill="#c0c0c0"/>
<rect x="875" y="595" width="1" height="44" fill="#c0c0c0"/>
<rect x="883" y="607" width="1" height="32" fill="#c0c0c0"/>
<rect x="891" y="619" width="1" height="20" fill="#c0c0c0"/>
<rect x="899" y="625" width="1" height="14" fill="#c0c0c0"/>
<rect x="907" y="633" width="1" height="6" fill="#c0c0c0"/>
<rect x="915" y="638" width="1" height="1" fill="#c0c0c0"/>
<rect x="923" y="639" width="1" height="1" fill="#c0c0c0"/>
<rect x="931" y="639" width="1" height="1" fill="#c0c0c0"/>
<rect x="947" y="635" width="1" height="4" fill="#c0c0c0"/>
<rect x="955" y="634" width="1" height="5" fill="#c0c0c0"/>
<rect x="963" y="632" width="1" height="7" fill="#c0c0c0"/>
<rect x="971" y="634" width="1" height="5" fill="#c0c0c0"/>
<rect x="979" y="637" width="1" height="2" fill="#c0c0c0"/>
<rect x="987" y="638" width="1" height="1" fill="#c0c0c0"/>
<rect x="995" y="639" width="1" height="8" fill="#c0c0c0"/>
<rect x="1003" y="639" width="1" height="10" fill="#c0c0c0"/>
<rect x="1011" y="639" width="1" height="9" fill="#c0c0c0"/>
<rect x="1019" y="639" width="1" height="12" fill="#c0c0c0"/>
<rect x="1027" y="639" width="1" height="13" fill="#c0c0c0"/>
<rect x="1035" y="639" width="1" height="13" fill="#c0c0c0"/>
<rect x="1043" y="639" width="1" height="13" fill="#c0c0c0"/>
<rect x="1051" y="639" width="1" height="12" fill="#c0c0c0"/>
<rect x="1059" y="639" width="1" height="13" fill="#c0c0c0"/>
<rect x="1067" y="639" width="1" height="12" fill="#c0c0c0"/>
<rect x="1075" y="639" width="1" height="13" fill="#c0c0c0"/>
<rect x="1083" y="639" width="1" height="15" fill="#c0c0c0"/>
<rect x="1091" y="639" width="1" height="20" fill="#c0c0c0"/>
<rect x="1099" y="639" width="1" height="23" fill="#c0c0c0"/>
<rect x="1107" y="639" width="1" height="22" fill="#c0c0c0"/>
<rect x="1115" y="639" width="1" height="23" fill="#c0c0c0"/>
<rect x="1123" y="639" width="1" height="25" fill="#c0c0c0"/>
<rect x="1131" y="639" width="1" height="26" fill="#c0c0c0"/>
<rect x="1139" y="639" width="1" height="28" fill="#c0c0c0"/>
<rect x="1147" y="639" width="1" height="30" fill="#c0c0c0"/>
<rect x="1155" y="639" width="1" height="31" fill="#c0c0c0"/>
<rect x="1163" y="639" width="1" height="29" fill="#c0c0c0"/>
<rect x="1171" y="639" width="1" height="26" fill="#c0c0c0"/>
<rect x="1179" y="639" width="1" height="20" fill="#c0c0c0"/>
<rect x="1187" y="639" width="1" height="17" fill="#c0c0c0"/>
<rect x="1195" y="639" width="1" height="15" fill="#c0c0c0"/>
<rect x="1203" y="639" width="1" height="12" fill="#c0c0c0"/>
<rect x="1211" y="639" width="1" height="10" fill="#c0c0c0"/>
<rect x="1219" y="639" width="1" height="8" fill="#c0c0c0"/>
<rect x="1227" y="639" width="1" height="5" fill="#c0c0c0"/>
<rect x="1235" y="639" width="1" height="2" fill="#c0c0c0"/>
<rect x="1251" y="638" width="1" height="1" fill="#c0c0c0"/>
<rect x="1259" y="636" width="1" height="3" fill="#c0c0c0"/>
<rect x="1267" y="634" width="1" height="5" fill="#c0c0c0"/>
<rect x="1275" y="633" width="1" height="6" fill="#c0c0c0"/>
<rect x="1283" y="634" width="1" height="5" fill="#c0c0c0"/>
<rect x="1291" y="632" width="1" height="7" fill="#c0c0c0"/>
<rect x="1299" y="632" width="1" height="7" fill="#c0c0c0"/>
<rect x="1307" y="631" width="1" height="8" fill="#c0c0c0"/>
<rect x="1315" y="631" width="1" height="8" fill="#c0c0c0"/>
<rect x="1323" y="632" width="1" height="7" fill="#c0c0c0"/>
<rect x="1331" y="626" width="1" height="13" fill="#c0c0c0"/>
<rect x="1339" y="620" width="1" height="19" fill="#c0c0c0"/>
<rect x="1347" y="615" width="1" height="24" fill="#c0c0c0"/>
<rect x="1355" y="608" width="1" height="31" fill="#c0c0c0"/>
<rect x="1363" y="604" width="1" height="35" fill="#c0c0c0"/>
<rect x="1371" y="607" width="1" height="32" fill="#c0c0c0"/>
<rect x="1379" y="614" width="1" height="25" fill="#c0c0c0"/>
<rect x="1387" y="623" width="1" height="16" fill="#c0c0c0"/>
<polyline points="1.5,625.5 10.5,627.5 20.5,629.5 32.5,632.5 45.5,633.5 57.5,632.5 70.5,630.5 82.5,629.5 95.5,628.5 110.5,627.5 125.5,629.5 135.5,631.5 147.5,633.5 160.5,635.5 175.5,635.5 187.5,634.5 202.5,632.5 217.5,629.5 230.5,628.5 242.5,626.5 267.5,626.5 282.5,628.5 297.5,631.5 310.5,635.5 322.5,640.5 332.5,643.5 342.5,646.5 355.5,647.5 367.5,646.5 380.5,644.5 390.5,640.5 400.5,636.5 410.5,631.5 418.5,626.5 420.5,625.5 427.5,624.5 435.5,622.5 445.5,620.5 455.5,620.5 465.5,621.5 475.5,624.5 485.5,627.5 495.5,631.5 505.5,636.5 515.5,640.5 525.5,642.5 540.5,644.5 555.5,643.5 570.5,640.5 580.5,637.5 595.5,633.5 605.5,631.5 620.5,629.5 632.5,626.5 642.5,623.5 650.5,619.5 660.5,617.5 670.5,614.5 680.5,611.5 691.5,611.5 700.5,615.5 710.5,621.5 722.5,632.5 732.5,645.5 742.5,657.5 752.5,673.5 762.5,687.5 772.5,701.5 782.5,712.5 792.5,720.5 802.5,723.5 810.5,724.5 817.5,721.5 825.5,713.5 832.5,703.5 838.5,693.5 842.5,688.5 850.5,672.5 857.5,660.5 865.5,647.5 872.5,635.5 880.5,623.5 887.5,616.5 895.5,611.5 902.5,609.5 910.5,610.5 920.5,613.5 930.5,619.5 940.5,626.5 950.5,631.5 957.5,634.5 970.5,636.5 990.5,636.5 1005.5,638.5 1017.5,640.5 1030.5,644.5 1040.5,646.5 1050.5,649.5 1060.5,651.5 1075.5,652.5 1090.5,653.5 1105.5,655.5 1122.5,658.5 1135.5,660.5 1145.5,662.5 1155.5,665.5 1170.5,666.5 1190.5,665.5 1200.5,663.5 1210.5,660.5 1220.5,658.5 1230.5,655.5 1240.5,651.5 1250.5,647.5 1258.5,644.5 1250.5,647.5 1262.5,643.5 1275.5,640.5 1290.5,636.5 1305.5,633.5 1325.5,632.5 1335.5,630.5 1345.5,627.5 1355.5,624.5 1362.5,621.5 1370.5,618.5 1380.5,616.5 1387.5,615.5" fill="none" stroke="#f00" stroke-width="1" stroke-dasharray="3 3"/>
<rect x="1634" y="581" width="2" height="1" fill="#000"/>
<rect x="1634" y="638" width="2" height="1" fill="#000"/>
<rect x="1634" y="749" width="2" height="1" fill="#000"/>
<line x1="2" y1="788.5" x2="1633" y2="788.5" stroke="#c0c0c0" stroke-width="1" stroke-dasharray="3 3"/>
<line x1="2" y1="839.5" x2="1633" y2="839.5" stroke="#c0c0c0" stroke-width="1" stroke-dasharray="3 3"/>
<line x1="2" y1="900.5" x2="1633" y2="900.5" stroke="#c0c0c0" stroke-width="1" stroke-dasharray="3 3"/>
<polyline points="0.5,845.5 3.5,845.5 11.5,841.5 19.5,839.5 27.5,836.5 35.5,827.5 43.5,824.5 51.5,815.5 59.5,812.5 67.5,814.5 75.5,813.5 83.5,836.5 91.5,847.5 99.5,841.5 107.5,844.5 115.5,850.5 123.5,847.5 131.5,848.5 139.5,841.5 147.5,849.5 155.5,823.5 163.5,826.5 171.5,824.5 179.5,819.5 187.5,822.5 195.5,821.5 203.5,827.5 211.5,825.5 219.5,824.5 227.5,829.5 235.5,831.5 243.5,830.5 251.5,824.5 259.5,831.5 267.5,829.5 275.5,853.5 283.5,861.5 291.5,855.5 299.5,861.5 307.5,873.5 315.5,874.5 323.5,855.5 331.5,865.5 339.5,835.5 347.5,826.5 355.5,825.5 363.5,825.5 371.5,816.5 379.5,821.5 387.5,820.5 395.5,814.5 403.5,816.5 411.5,815.5 419.5,815.5 427.5,825.5 435.5,831.5 443.5,837.5 451.5,847.5 459.5,857.5 467.5,853.5 475.5,846.5 483.5,850.5 491.5,853.5 499.5,865.5 507.5,864.5 515.5,854.5 523.5,832.5 531.5,824.5 539.5,822.5 547.5,828.5 555.5,831.5 563.5,828.5 571.5,826.5 579.5,826.5 587.5,829.5 595.5,829.5 603.5,828.5 611.5,827.5 619.5,824.5 627.5,798.5 635.5,789.5 643.5,802.5 651.5,803.5 659.5,824.5 667.5,836.5 675.5,835.5 683.5,849.5 691.5,871.5 699.5,873.5 707.5,857.5 715.5,871.5 723.5,860.5 731.5,872.5 739.5,878.5 747.5,884.5 755.5,888.5 763.5,864.5 771.5,867.5 779.5,865.5 787.5,835.5 795.5,846.5 803.5,848.5 811.5,839.5 819.5,833.5 827.5,817.5 835.5,819.5 843.5,825.5 851.5,822.5 859.5,821.5 867.5,823.5 875.5,837.5 883.5,845.5 891.5,848.5 899.5,843.5 907.5,847.5 915.5,848.5 923.5,842.5 931.5,840.5 939.5,836.5 947.5,833.5 955.5,837.5 963.5,835.5 971.5,840.5 979.5,841.5 987.5,848.5 995.5,852.5 1003.5,846.5 1011.5,843.5 1019.5,846.5 1027.5,845.5 1035.5,845.5 1043.5,845.5 1051.5,843.5 1059.5,846.5 1067.5,849.5 1075.5,847.5 1083.5,851.5 1091.5,858.5 1099.5,860.5 1107.5,847.5 1115.5,853.5 1123.5,855.5 1131.5,855.5 1139.5,859.5 1147.5,862.5 1155.5,859.5 1163.5,851.5 1171.5,846.5 1179.5,833.5 1187.5,841.5 1195.5,845.5 1203.5,837.5 1211.5,838.5 1219.5,840.5 1227.5,836.5 1235.5,828.5 1243.5,833.5 1251.5,832.5 1259.5,834.5 1267.5,830.5 1275.5,831.5 1283.5,837.5 1291.5,830.5 1299.5,834.5 1307.5,830.5 1315.5,833.5 1323.5,837.5 1331.5,812.5 1339.5,809.5 1347.5,807.5 1355.5,801.5 1363.5,801.5 1371.5,833.5 1379.5,844.5 1387.5,854.5" fill="none" stroke="#1e90ff" stroke-width="1" />
<rect x="59" y="927" width="1" height="3" fill="#000"/>
<rect x="123" y="927" width="1" height="3" fill="#000"/>
<rect x="187" y="927" width="1" height="3" fill="#000"/>
<rect x="251" y="927" width="1" height="3" fill="#000"/>
<rect x="315" y="927" width="1" height="3" fill="#000"/>
<rect x="379" y="927" width="1" height="3" fill="#000"/>
<rect x="443" y="927" width="1" height="3" fill="#000"/>
<rect x="507" y="927" width="1" height="3" fill="#000"/>
<rect x="571" y="927" width="1" height="3" fill="#000"/>
<rect x="635" y="927" width="1" height="3" fill="#000"/>
<rect x="699" y="927" width="1" height="3" fill="#000"/>
<rect x="763" y="927" width="1" height="3" fill="#000"/>
<rect x="827" y="927" width="1" height="3" fill="#000"/>
<rect x="891" y="927" width="1" height="3" fill="#000"/>
<rect x="955" y="927" width="1" height="3" fill="#000"/>
<rect x="1019" y="927" width="1" height="3" fill="#000"/>
<rect x="1083" y="927" width="1" height="3" fill="#000"/>
<rect x="1147" y="927" width="1" height="3" fill="#000"/>
<rect x="1211" y="927" width="1" height="3" fill="#000"/>
<rect x="1275" y="927" width="1" height="3" fill="#000"/>
<rect x="1339" y="927" width="1" height="3" fill="#000"/>
<rect x="1470.5" y="261.5" width="73" height="24" fill="#fff" stroke="#f00" stroke-width="1"/>
<rect x="1460" y="273" width="7" height="1" fill="#f00"/>
<rect x="1467" y="271" width="4" height="4" fill="#f00"/>
<rect x="1468" y="272" width="2" height="2" fill="#fff"/>
<rect x="1679" y="22" width="1" height="923" fill="#e2e2e2"/>
</svg>
<svg width="1680" height="945" viewBox="0 0 1680 945">
<polygon points="1362.6,163.5 1364.2,164 1393.6,319 1390.2,319.6" fill="#f00"/>
<line x1="1366" y1="182" x2="1391.8" y2="319" stroke="#f00" stroke-width="3.4" stroke-linecap="butt"/>
<polygon points="1392.4,325.4 1385.2,313.6 1386.8,312.4 1391.2,316.2 1395.2,311.4 1397,312.2" fill="#f00"/>
<text x="1427" y="336.9" font-size="32.6" font-weight="bold" font-family='"Liberation Serif","Noto Serif CJK SC",serif' fill="#0a3000" opacity="0.8" letter-spacing="-0.2">多空转折点</text>
<text x="1426" y="336.2" font-size="32.6" font-weight="bold" font-family='"Liberation Serif","Noto Serif CJK SC",serif' fill="#0f0" letter-spacing="-0.2">多空转折点</text>
</svg>
<svg width="1680" height="25" viewBox="0 0 1680 25">
<rect width="1680" height="21" fill="#f0f0f0"/><rect y="21" width="1680" height="1" fill="#a4a4a4"/><rect y="22" width="1680" height="1" fill="#696969"/><rect y="23" width="1680" height="2" fill="#fff"/>
<rect x="269" y="0" width="25" height="20" fill="#f9f9f9"/>
<rect x="420" y="0" width="27" height="20" fill="#f9f9f9"/>
<rect x="609" y="0" width="24" height="20" fill="#f9f9f9"/>
<rect x="1083" y="0" width="25" height="20" fill="#f9f9f9"/>
<rect x="230" y="0" width="1" height="21" fill="#9a9a9a"/>
<rect x="268" y="1" width="1" height="18" fill="#9a9a9a"/>
<rect x="325" y="1" width="1" height="18" fill="#9a9a9a"/>
<rect x="415" y="1" width="1" height="18" fill="#9a9a9a"/>
<rect x="448" y="1" width="1" height="18" fill="#9a9a9a"/>
<rect x="477" y="1" width="1" height="18" fill="#9a9a9a"/>
<rect x="598" y="0" width="1" height="21" fill="#9a9a9a"/>
<rect x="665" y="1" width="1" height="18" fill="#9a9a9a"/>
<rect x="904" y="0" width="1" height="21" fill="#9a9a9a"/>
<rect x="1082" y="1" width="1" height="18" fill="#9a9a9a"/>
<rect x="1165" y="1" width="1" height="18" fill="#9a9a9a"/>
<g fill="#b0b0b0"><rect x="234" y="2" width="3" height="1"/><rect x="234" y="4" width="3" height="1"/><rect x="234" y="6" width="3" height="1"/><rect x="234" y="8" width="3" height="1"/><rect x="234" y="10" width="3" height="1"/><rect x="234" y="12" width="3" height="1"/><rect x="234" y="14" width="3" height="1"/><rect x="234" y="16" width="3" height="1"/></g>
<g fill="#b0b0b0"><rect x="602" y="2" width="3" height="1"/><rect x="602" y="4" width="3" height="1"/><rect x="602" y="6" width="3" height="1"/><rect x="602" y="8" width="3" height="1"/><rect x="602" y="10" width="3" height="1"/><rect x="602" y="12" width="3" height="1"/><rect x="602" y="14" width="3" height="1"/><rect x="602" y="16" width="3" height="1"/></g>
<g fill="#b0b0b0"><rect x="908" y="2" width="3" height="1"/><rect x="908" y="4" width="3" height="1"/><rect x="908" y="6" width="3" height="1"/><rect x="908" y="8" width="3" height="1"/><rect x="908" y="10" width="3" height="1"/><rect x="908" y="12" width="3" height="1"/><rect x="908" y="14" width="3" height="1"/><rect x="908" y="16" width="3" height="1"/></g>
<polygon points="509,8 514,8 511.5,11" fill="#111"/>
<polygon points="548,8 553,8 550.5,11" fill="#111"/>
<polygon points="587,8 592,8 589.5,11" fill="#111"/>
<polygon points="893,8 898,8 895.5,11" fill="#111"/>
<g transform="translate(4 1)"><path d="M1.5 0.5h7l3 3v11h-10z" fill="#fff" stroke="#8a8a8a"/><path d="M8.5 0.5v3h3" fill="#e6e6e6" stroke="#8a8a8a"/><path d="M3.5 5.5h5M3.5 7.5h6M3.5 9.5h3" stroke="#777"/><path d="M8.2 6.8h3.6v3.8h3.8v3.6h-3.8v3.8h-3.6v-3.8h-3.8v-3.6h3.8z" fill="#35d235" stroke="#0b7d0b" stroke-width="1.1"/><path d="M9.3 8v9M5.6 12.5h9" stroke="#8af58a" stroke-width="1" opacity="0.7"/></g>
<text x="22.6" y="12.3" font-size="12.3" fill="#000" font-family='"Liberation Sans","Noto Sans CJK SC",sans-serif'>新订单</text>
<g transform="translate(71 2)"><path d="M5 0.5L15 8.5 9.5 14 0.5 9z" fill="#e9b93a" stroke="#a67712"/><path d="M0.5 9L9.5 14v-1.8L1.4 7.8z" fill="#c58f1c"/><path d="M5.4 1.6l8.2 6.8-1.6 1.5" fill="none" stroke="#f8df8c"/></g>
<g transform="translate(99 1)"><rect x="2.5" y="0.5" width="10" height="11" fill="#4aa3ee" stroke="#1d6fc4"/><path d="M4 3h7M5.5 3v6M8 6h3" stroke="#dff0ff" stroke-width="1.2"/><path d="M3.5 15.5a3 3 0 0 1 0.6-5.9 3.6 3.6 0 0 1 6.8 0.4 2.8 2.8 0 0 1 1.6 5.5z" fill="#eef4fb" stroke="#8aa8cc"/></g>
<g transform="translate(127 1)"><circle cx="8" cy="8" r="7" fill="none" stroke="#7aa7d9" stroke-width="1.3"/><circle cx="8" cy="8" r="4.3" fill="none" stroke="#4f86c6" stroke-width="1.3"/><circle cx="8" cy="8" r="1.6" fill="#2d62b0"/><path d="M8 8v7.2c3.6-0.3 6.2-2.7 6.9-6" fill="none" stroke="#45b545" stroke-width="2"/></g>
<g transform="translate(154 1)"><path d="M1.5 7.5L8 16l7-8.5z" fill="#f2c83c" stroke="#b98a12"/><ellipse cx="8.3" cy="6.2" rx="7.6" ry="2.6" fill="#5a9bdc" stroke="#2f6db5"/><path d="M4 6c0-6 8.6-6 8.6 0z" fill="#6fb0ea" stroke="#2f6db5"/><circle cx="12.6" cy="12.4" r="3.9" fill="#e02020" stroke="#a00" stroke-width="0.6"/><rect x="11" y="10.8" width="3.2" height="3.2" fill="#fff"/></g>
<text x="174" y="12.3" font-size="12.3" fill="#000" font-family='"Liberation Sans","Noto Sans CJK SC",sans-serif'>自动交易</text>
<path d="M249.5 2v14M246.5 14.5h14" stroke="#444" fill="none"/><path d="M247.5 4.5l2-2.5 2 2.5M258 12.5l2.5 2-2.5 2" stroke="#444" fill="none"/><path d="M253.5 12.5h2v-7h2.5" stroke="#1a9a1a" stroke-width="1.6" fill="none"/>
<path d="M276.5 2v14M273.5 14.5h14" stroke="#444" fill="none"/><path d="M274.5 4.5l2-2.5 2 2.5M285 12.5l2.5 2-2.5 2" stroke="#444" fill="none"/><path d="M282.5 1.5v13" stroke="#157a15"/><rect x="280.5" y="3.5" width="4" height="7.5" fill="#2fc12f" stroke="#157a15"/>
<path d="M305.5 2v14M302.5 14.5h14" stroke="#444" fill="none"/><path d="M303.5 4.5l2-2.5 2 2.5M314 12.5l2.5 2-2.5 2" stroke="#444" fill="none"/><path d="M306 12c2-5 4.5-7 7-6 1.5 0.6 2.4 2 3.4 3.8" stroke="#1a9a1a" stroke-width="1.3" fill="none"/>
<g transform="translate(334 1)"><path d="M10.2 10l4.8 4.8" stroke="#c9a227" stroke-width="3" stroke-linecap="round"/><path d="M10.2 10l4.8 4.8" stroke="#f0d56a" stroke-width="1.2" stroke-linecap="round"/><circle cx="6.6" cy="6.4" r="5" fill="#dcebfa" stroke="#3b7dcc" stroke-width="1.4"/><path d="M4.2 6.4h4.8M6.6 4v4.8" stroke="#2b6fc2" stroke-width="1.7"/></g>
<g transform="translate(362 1)"><path d="M10.2 10l4.8 4.8" stroke="#c9a227" stroke-width="3" stroke-linecap="round"/><path d="M10.2 10l4.8 4.8" stroke="#f0d56a" stroke-width="1.2" stroke-linecap="round"/><circle cx="6.6" cy="6.4" r="5" fill="#dcebfa" stroke="#3b7dcc" stroke-width="1.4"/><path d="M4.2 6.4h4.8" stroke="#2b6fc2" stroke-width="1.7"/></g>
<g transform="translate(390 1)"><rect x="0" y="0" width="7.6" height="7.6" fill="#3fae3f"/><rect x="8.4" y="0" width="7.6" height="7.6" fill="#2f6fd6"/><rect x="0" y="8.4" width="7.6" height="7.6" fill="#2f6fd6"/><rect x="8.4" y="8.4" width="7.6" height="7.6" fill="#3fae3f"/><g fill="#fff"><rect x="1.3" y="3" width="5" height="2.6"/><rect x="9.7" y="3" width="5" height="2.6"/><rect x="1.3" y="11.4" width="5" height="2.6"/><rect x="9.7" y="11.4" width="5" height="2.6"/></g><g fill="#888"><rect x="1.3" y="5.6" width="1.2" height="1"/><rect x="5.1" y="5.6" width="1.2" height="1"/><rect x="9.7" y="5.6" width="1.2" height="1"/><rect x="13.5" y="5.6" width="1.2" height="1"/><rect x="1.3" y="14" width="1.2" height="1"/><rect x="5.1" y="14" width="1.2" height="1"/><rect x="9.7" y="14" width="1.2" height="1"/><rect x="13.5" y="14" width="1.2" height="1"/></g></g>
<path d="M428.5 2v14M425.5 14.5h14" stroke="#444" fill="none"/><path d="M426.5 4.5l2-2.5 2 2.5M437 12.5l2.5 2-2.5 2" stroke="#444" fill="none"/><polygon points="433,5 433,12 437.5,8.5" fill="#2fc12f" stroke="#157a15" stroke-width="0.6"/>
<path d="M457.5 2v14M454.5 14.5h14" stroke="#444" fill="none"/><path d="M455.5 4.5l2-2.5 2 2.5M466 12.5l2.5 2-2.5 2" stroke="#444" fill="none"/><path d="M462.5 2v11" stroke="#2b6fc2" stroke-width="1.2"/><path d="M468 8.5h-4M466 6.5l-2.2 2 2.2 2" stroke="#d03a10" stroke-width="1.2" fill="none"/>
<g transform="translate(487 1)"><path d="M1.5 0.5h6l3 3v10h-9z" fill="#fff" stroke="#8a8a8a"/><path d="M7.5 0.5v3h3" fill="#e6e6e6" stroke="#8a8a8a"/><path d="M4 3.5c-1 0-1 2 0 2.4-1 0.4-1 2.6 0 2.6" stroke="#666" fill="none"/><path d="M8.2 6.4h3.6v3.6h3.6v3.6h-3.6v3.6h-3.6v-3.6h-3.6v-3.6h3.6z" fill="#35d235" stroke="#0b7d0b" stroke-width="1.1"/></g>
<g transform="translate(525 1)"><circle cx="8" cy="8" r="7.2" fill="#2f7fe0" stroke="#1b58b0"/><circle cx="8" cy="8" r="5" fill="#f4f8fd"/><path d="M8 4.5v3.8h3" stroke="#444" stroke-width="1.2" fill="none"/></g>
<g transform="translate(564 1)"><rect x="0.5" y="0.5" width="15" height="14" fill="#fff" stroke="#3b7dcc"/><rect x="0.5" y="0.5" width="15" height="2.5" fill="#3b7dcc"/><path d="M2.5 7.5l3-1 2.5 0.6 2.5-1.6 3 0.4" stroke="#b03010" stroke-width="1.2" fill="none"/><path d="M2.5 12.5l3-1.4 2 1 2.5-2 3 1.6" stroke="#1a9a1a" stroke-width="1.2" fill="none"/></g>
<path d="M616.5 2.5v11l2.8-2.6 2.2 4.4 1.8-0.9-2.2-4.3 3.7-0.3z" fill="#444" stroke="#333" stroke-width="0.5"/>
<path d="M648.5 2v14M641 9.5h15" stroke="#555"/><rect x="648" y="9" width="1" height="1" fill="#f0f0f0"/>
<path d="M682.5 3v12.5" stroke="#444" stroke-width="1.3"/><path d="M705 9.5h12" stroke="#444" stroke-width="1.3"/><path d="M733 15.5L745 4" stroke="#555" stroke-width="1.2"/>
<g stroke="#555" fill="none"><path d="M759 12l14-9M760 15.5l14-9"/><path d="M762.5 6v9M766.5 4v9M770.5 1.5v9" stroke-width="0.9"/></g><text x="770" y="17.5" font-size="6.5" font-weight="bold" fill="#333" font-family="Liberation Sans,sans-serif">E</text>
<g stroke="#555" stroke-dasharray="1 1"><path d="M788 2.5h13M788 5.5h13M788 9.5h13M788 13.5h9"/></g><text x="797.5" y="17.5" font-size="6.5" font-weight="bold" fill="#333" font-family="Liberation Sans,sans-serif">F</text>
<text x="818.4" y="14" font-size="11.6" font-weight="bold" fill="#5a5a5a" font-family="Liberation Sans,sans-serif">A</text>
<rect x="844.5" y="2.5" width="12" height="12" fill="none" stroke="#555" stroke-dasharray="1 1"/><text x="846.4" y="13.2" font-size="11.5" font-weight="bold" fill="#555" font-family="Liberation Sans,sans-serif">T</text>
<g fill="#444"><path d="M875 3.5l3 -2.5 3 2.5 -3 2.5z"/><path d="M879 12.5l3 -2.5 3 2.5 -3 2.5z"/></g><path d="M873 8l3 3 4-4" stroke="#444" stroke-width="1.4" fill="none"/>
<text x="919" y="12.6" font-size="9.6" fill="#3c3c3c" font-family="Liberation Sans,sans-serif">M1</text>
<text x="947.2" y="12.6" font-size="9.6" fill="#3c3c3c" font-family="Liberation Sans,sans-serif">M5</text>
<text x="973.4" y="12.6" font-size="9.6" fill="#3c3c3c" font-family="Liberation Sans,sans-serif">M15</text>
<text x="1001" y="12.6" font-size="9.6" fill="#3c3c3c" font-family="Liberation Sans,sans-serif">M30</text>
<text x="1032" y="12.6" font-size="9.6" fill="#3c3c3c" font-family="Liberation Sans,sans-serif">H1</text>
<text x="1059.3" y="12.6" font-size="9.6" fill="#3c3c3c" font-family="Liberation Sans,sans-serif">H4</text>
<text x="1088" y="12.6" font-size="9.6" fill="#3c3c3c" font-family="Liberation Sans,sans-serif">D1</text>
<text x="1115.8" y="12.6" font-size="9.6" fill="#3c3c3c" font-family="Liberation Sans,sans-serif">W1</text>
<text x="1142.2" y="12.6" font-size="9.6" fill="#3c3c3c" font-family="Liberation Sans,sans-serif">MN</text>
<g transform="translate(1627 2)"><path d="M1.5 11.5l4-4" stroke="#2b5fc0" stroke-width="2.4" stroke-linecap="round"/><circle cx="8.3" cy="4.6" r="3.4" fill="#f4f8ff" stroke="#2b5fc0" stroke-width="1.6"/></g>
<g transform="translate(1654 1)" fill="#f4f4f4" stroke="#9a9a9a"><path d="M8 1.5c3-1.6 11-1.4 11.5 3 0.3 3-2.5 4.2-4 4.4l0.6 2.6-3-2.4c-4 0.4-7-1.4-7-4 0-1.4 0.8-2.8 1.9-3.6z"/><path d="M1 8c0.4-2.6 7-3 8.4-0.4 1 2.6-1.6 3.9-3.6 3.9l-2.4 2 0.4-2.3c-1.6-0.4-3-1.4-2.8-3.2z"/></g>
</svg>
<div class="t" style="left:1639px;top:42.53px;font-size:10px;color:#000;transform:scaleX(0.922);transform-origin:0 0;">112.330</div>
<div class="t" style="left:1639px;top:75.53px;font-size:10px;color:#000;transform:scaleX(0.922);transform-origin:0 0;">111.610</div>
<div class="t" style="left:1639px;top:108.53px;font-size:10px;color:#000;transform:scaleX(0.922);transform-origin:0 0;">110.910</div>
<div class="t" style="left:1639px;top:141.53px;font-size:10px;color:#000;transform:scaleX(0.922);transform-origin:0 0;">110.190</div>
<div class="t" style="left:1639px;top:174.53px;font-size:10px;color:#000;transform:scaleX(0.922);transform-origin:0 0;">109.490</div>
<div class="t" style="left:1639px;top:207.53px;font-size:10px;color:#000;transform:scaleX(0.922);transform-origin:0 0;">108.770</div>
<div class="t" style="left:1639px;top:240.53px;font-size:10px;color:#000;transform:scaleX(0.922);transform-origin:0 0;">108.050</div>
<div class="t" style="left:1639px;top:273.54px;font-size:10px;color:#000;transform:scaleX(0.922);transform-origin:0 0;">107.350</div>
<div class="t" style="left:1639px;top:306.54px;font-size:10px;color:#000;transform:scaleX(0.922);transform-origin:0 0;">106.630</div>
<div class="t" style="left:1639px;top:339.54px;font-size:10px;color:#000;transform:scaleX(0.922);transform-origin:0 0;">105.930</div>
<div class="t" style="left:1639px;top:372.54px;font-size:10px;color:#000;transform:scaleX(0.922);transform-origin:0 0;">105.210</div>
<div class="t" style="left:1639px;top:405.54px;font-size:10px;color:#000;transform:scaleX(0.922);transform-origin:0 0;">104.510</div>
<div class="t" style="left:1639px;top:438.54px;font-size:10px;color:#000;transform:scaleX(0.922);transform-origin:0 0;">103.790</div>
<div class="t" style="left:1639px;top:471.54px;font-size:10px;color:#000;transform:scaleX(0.922);transform-origin:0 0;">103.070</div>
<div class="t" style="left:1639px;top:504.54px;font-size:10px;color:#000;transform:scaleX(0.922);transform-origin:0 0;">102.370</div>
<div class="t" style="left:1639px;top:537.53px;font-size:10px;color:#000;transform:scaleX(0.922);transform-origin:0 0;">101.650</div>
<div class="t" style="left:1639px;top:570.53px;font-size:10px;color:#000;transform:scaleX(0.922);transform-origin:0 0;">100.950</div>
<div class="t" style="left:1635px;top:224px;width:41px;height:11px;background:#f00"></div>
<div class="t" style="left:1639px;top:225.53px;font-size:10px;color:#fff;transform:scaleX(0.922);transform-origin:0 0;">108.380</div>
<div class="t" style="left:1635px;top:246px;width:41px;height:11px;background:#f00"></div>
<div class="t" style="left:1639px;top:247.53px;font-size:10px;color:#fff;transform:scaleX(0.922);transform-origin:0 0;">107.906</div>
<div class="t" style="left:1635px;top:267px;width:41px;height:11px;background:#32cd32"></div>
<div class="t" style="left:1639px;top:268.54px;font-size:10px;color:#fff;transform:scaleX(0.922);transform-origin:0 0;">107.454</div>
<div class="t" style="left:1635px;top:284px;width:41px;height:11px;background:#000"></div>
<div class="t" style="left:1639px;top:285.54px;font-size:10px;color:#fff;transform:scaleX(0.922);transform-origin:0 0;">107.108</div>
<div class="t" style="left:1635px;top:303px;width:41px;height:11px;background:#00f"></div>
<div class="t" style="left:1639px;top:304.54px;font-size:10px;color:#fff;transform:scaleX(0.922);transform-origin:0 0;">106.679</div>
<div class="t" style="left:1635px;top:331px;width:41px;height:11px;background:#00f"></div>
<div class="t" style="left:1639px;top:332.54px;font-size:10px;color:#fff;transform:scaleX(0.922);transform-origin:0 0;">106.077</div>
<div class="t" style="left:1637px;top:582.53px;font-size:10px;color:#000;transform:scaleX(0.922);transform-origin:0 0;">0.8034</div>
<div class="t" style="left:1637px;top:633.53px;font-size:10px;color:#000;transform:scaleX(0.922);transform-origin:0 0;">0.00</div>
<div class="t" style="left:1637px;top:738.53px;font-size:10px;color:#000;transform:scaleX(0.922);transform-origin:0 0;">-1.5784</div>
<div class="t" style="left:-0.6px;top:584.53px;font-size:10px;color:#000;transform:scaleX(0.922);transform-origin:0 0;">MACD(12,26,9) 0.2301 0.3229</div>
<div class="t" style="left:1637px;top:754.53px;font-size:10px;color:#000;transform:scaleX(0.922);transform-origin:0 0;">100</div>
<div class="t" style="left:1637px;top:783.53px;font-size:10px;color:#000;transform:scaleX(0.922);transform-origin:0 0;">80</div>
<div class="t" style="left:1637px;top:834.53px;font-size:10px;color:#000;transform:scaleX(0.922);transform-origin:0 0;">50</div>
<div class="t" style="left:1637px;top:895.53px;font-size:10px;color:#000;transform:scaleX(0.922);transform-origin:0 0;">15</div>
<div class="t" style="left:1637px;top:914.53px;font-size:10px;color:#000;transform:scaleX(0.922);transform-origin:0 0;">0</div>
<div class="t" style="left:-1.6px;top:756.53px;font-size:10px;color:#000;transform:scaleX(0.922);transform-origin:0 0;">RSI(14) 41.1854</div>
<div class="t" style="left:-6px;top:930.53px;font-size:10px;color:#000;transform:scaleX(0.95);transform-origin:0 0;">19 Nov 2019</div>
<div class="t" style="left:58px;top:930.53px;font-size:10px;color:#000;transform:scaleX(0.95);transform-origin:0 0;">28 Nov 2019</div>
<div class="t" style="left:122px;top:930.53px;font-size:10px;color:#000;transform:scaleX(0.95);transform-origin:0 0;">8 Dec 2019</div>
<div class="t" style="left:186px;top:930.53px;font-size:10px;color:#000;transform:scaleX(0.95);transform-origin:0 0;">17 Dec 2019</div>
<div class="t" style="left:250px;top:930.53px;font-size:10px;color:#000;transform:scaleX(0.95);transform-origin:0 0;">26 Dec 2019</div>
<div class="t" style="left:314px;top:930.53px;font-size:10px;color:#000;transform:scaleX(0.95);transform-origin:0 0;">5 Jan 2020</div>
<div class="t" style="left:378px;top:930.53px;font-size:10px;color:#000;transform:scaleX(0.95);transform-origin:0 0;">14 Jan 2020</div>
<div class="t" style="left:442px;top:930.53px;font-size:10px;color:#000;transform:scaleX(0.95);transform-origin:0 0;">23 Jan 2020</div>
<div class="t" style="left:506px;top:930.53px;font-size:10px;color:#000;transform:scaleX(0.95);transform-origin:0 0;">2 Feb 2020</div>
<div class="t" style="left:570px;top:930.53px;font-size:10px;color:#000;transform:scaleX(0.95);transform-origin:0 0;">11 Feb 2020</div>
<div class="t" style="left:634px;top:930.53px;font-size:10px;color:#000;transform:scaleX(0.95);transform-origin:0 0;">20 Feb 2020</div>
<div class="t" style="left:698px;top:930.53px;font-size:10px;color:#000;transform:scaleX(0.95);transform-origin:0 0;">1 Mar 2020</div>
<div class="t" style="left:762px;top:930.53px;font-size:10px;color:#000;transform:scaleX(0.95);transform-origin:0 0;">10 Mar 2020</div>
<div class="t" style="left:826px;top:930.53px;font-size:10px;color:#000;transform:scaleX(0.95);transform-origin:0 0;">19 Mar 2020</div>
<div class="t" style="left:890px;top:930.53px;font-size:10px;color:#000;transform:scaleX(0.95);transform-origin:0 0;">29 Mar 2020</div>
<div class="t" style="left:954px;top:930.53px;font-size:10px;color:#000;transform:scaleX(0.95);transform-origin:0 0;">7 Apr 2020</div>
<div class="t" style="left:1018px;top:930.53px;font-size:10px;color:#000;transform:scaleX(0.95);transform-origin:0 0;">17 Apr 2020</div>
<div class="t" style="left:1082px;top:930.53px;font-size:10px;color:#000;transform:scaleX(0.95);transform-origin:0 0;">27 Apr 2020</div>
<div class="t" style="left:1146px;top:930.53px;font-size:10px;color:#000;transform:scaleX(0.95);transform-origin:0 0;">6 May 2020</div>
<div class="t" style="left:1210px;top:930.53px;font-size:10px;color:#000;transform:scaleX(0.95);transform-origin:0 0;">15 May 2020</div>
<div class="t" style="left:1274px;top:930.53px;font-size:10px;color:#000;transform:scaleX(0.95);transform-origin:0 0;">25 May 2020</div>
<div class="t" style="left:1338px;top:930.53px;font-size:10px;color:#000;transform:scaleX(0.95);transform-origin:0 0;">3 Jun 2020</div>
<div class="t" style="left:1472px;top:263.66px;font-size:21.9px;color:#f00;transform:scaleX(0.895);transform-origin:0 0;">107.454</div>

<div class="rp" style="left:0;top:45px;width:50px;height:25px;background:linear-gradient(#f24c4c,#dc3030)"></div>
<div class="rp" style="left:165px;top:45px;width:52px;height:25px;background:linear-gradient(#f24c4c,#dc3030)"></div>
<div class="rp" style="left:0;top:69px;width:107px;height:40px;background:linear-gradient(#dc3232,#c81414 45%,#a80000)"></div>
<div class="rp" style="left:109px;top:69px;width:108px;height:40px;background:linear-gradient(#dc3232,#c81414 45%,#a80000)"></div>
<div class="rp" style="left:2px;top:69px;width:44px;height:1px;background:#f07878"></div>
<div class="rp" style="left:169px;top:69px;width:44px;height:1px;background:#f07878"></div>
<div class="rp" style="left:50px;top:45px;width:115px;height:24px;background:#fff"></div>
<div class="rp" style="left:52px;top:45px;width:111px;height:22px;background:#fff;border:1px solid #a9aeb8;box-sizing:border-box"></div>
<div class="rp" style="left:53px;top:46px;width:20px;height:20px;background:linear-gradient(#f2f2f2,#dcdcdc 50%,#cfcfcf 51%,#e4e4e4);border-right:1px solid #b4b8c0;box-sizing:border-box"></div>
<div class="rp" style="left:142px;top:46px;width:20px;height:20px;background:linear-gradient(#f2f2f2,#dcdcdc 50%,#cfcfcf 51%,#e4e4e4);border-left:1px solid #b4b8c0;box-sizing:border-box"></div>
<svg class="rp" style="left:53px;top:46px" width="110" height="20"><polygon points="7,8 12,8 9.5,11" fill="#4a5fb0"/><polygon points="96,11 101,11 98.5,8" fill="#4a5fb0"/></svg>
<div class="t" style="left:10.2px;top:51.35px;font-size:11.4px;color:#fff;transform:scaleX(0.92);transform-origin:0 0;">SELL</div><div class="t" style="left:178.6px;top:51.35px;font-size:11.4px;color:#fff;transform:scaleX(0.97);transform-origin:0 0;letter-spacing:0.3px;">BUY</div><div class="t" style="left:114px;top:49.93px;font-size:11.9px;color:#101030;">1.00</div><div class="t" style="left:21px;top:89.77px;font-size:12.2px;color:#fff;font-weight:bold;">107</div><div class="t" style="left:131.2px;top:89.77px;font-size:12.2px;color:#fff;font-weight:bold;">107</div><div class="t" style="left:45px;top:71.79px;font-size:33.8px;color:#fff;transform:scaleX(0.96);transform-origin:0 0;">10</div><div class="t" style="left:156px;top:71.79px;font-size:33.8px;color:#fff;transform:scaleX(0.96);transform-origin:0 0;">13</div><div class="t" style="left:85.3px;top:74.46px;font-size:10.8px;color:#fff;">8</div><div class="t" style="left:196.4px;top:74.46px;font-size:10.8px;color:#fff;">8</div><svg class="rp" style="left:0;top:31px" width="6" height="6"><polygon points="0,4.8 5,4.8 2.5,1.4" fill="#000"/></svg><div class="t" style="left:10.1px;top:28.54px;font-size:10px;color:#000;word-spacing:0.4px;transform:scaleX(0.932);transform-origin:0 0;">USDJPY-,Daily&nbsp; 107.796 107.867 106.982 107.108</div>
</body></html>
